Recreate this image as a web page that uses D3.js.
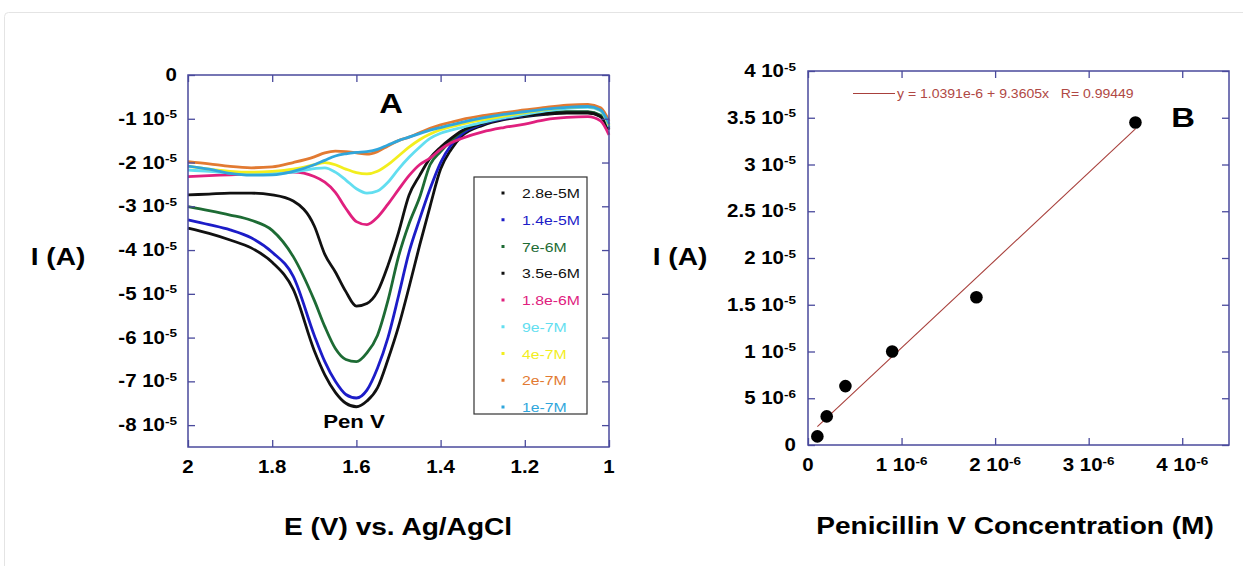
<!DOCTYPE html>
<html>
<head>
<meta charset="utf-8">
<script src="https://cdn.jsdelivr.net/npm/d3@7"></script>
<style>
  body { margin: 0; background: #fff; }
  svg { display: block; font-family: "Liberation Sans", Arial, sans-serif; }
</style>
</head>
<body>
<svg id="chart" width="1243" height="566"></svg>
<script>
// ---- panel A: voltammograms, current in units of 1e-5 A ----
const potentials = [2.00, 1.95, 1.90, 1.85, 1.80, 1.75, 1.70, 1.675, 1.65, 1.625, 1.60, 1.575, 1.55, 1.525,
                    1.50, 1.475, 1.45, 1.425, 1.40, 1.375, 1.35, 1.30, 1.25, 1.20, 1.15, 1.10, 1.05, 1.02, 1.00];

const conc28e6 = [-3.50, -3.62, -3.77, -3.95, -4.28, -4.90, -6.30, -6.85, -7.25, -7.50, -7.58, -7.45, -7.15, -6.50,
                  -5.75, -4.85, -3.90, -3.00, -2.15, -1.70, -1.40, -1.15, -1.02, -0.95, -0.90, -0.87, -0.87, -0.95, -1.25];
const conc14e6 = [-3.31, -3.42, -3.54, -3.72, -4.05, -4.60, -5.95, -6.55, -7.00, -7.30, -7.38, -7.20, -6.70, -6.00,
                  -5.05, -4.05, -3.30, -2.60, -2.00, -1.60, -1.35, -1.12, -1.00, -0.93, -0.88, -0.85, -0.85, -0.93, -1.22];
const conc7e6  = [-3.01, -3.10, -3.20, -3.32, -3.55, -4.15, -5.15, -5.75, -6.25, -6.50, -6.55, -6.35, -5.95, -5.15,
                  -4.15, -3.40, -2.80, -2.05, -1.75, -1.50, -1.30, -1.10, -0.98, -0.92, -0.87, -0.84, -0.84, -0.92, -1.20];
const conc35e6 = [-2.74, -2.72, -2.70, -2.70, -2.74, -2.88, -3.45, -4.10, -4.50, -4.95, -5.28, -5.22, -4.95, -4.35,
                  -3.60, -2.75, -2.30, -1.90, -1.65, -1.45, -1.28, -1.10, -0.98, -0.92, -0.88, -0.86, -0.86, -0.95, -1.25];
const conc18e6 = [-2.32, -2.30, -2.28, -2.26, -2.24, -2.22, -2.32, -2.45, -2.68, -3.05, -3.35, -3.42, -3.25, -2.95,
                  -2.62, -2.30, -2.05, -1.90, -1.70, -1.55, -1.45, -1.30, -1.20, -1.12, -1.02, -0.97, -0.95, -1.05, -1.37];
const conc9e7  = [-2.17, -2.20, -2.24, -2.26, -2.25, -2.22, -2.14, -2.12, -2.22, -2.40, -2.60, -2.70, -2.65, -2.45,
                  -2.15, -1.88, -1.65, -1.45, -1.33, -1.26, -1.20, -1.08, -0.98, -0.90, -0.82, -0.76, -0.74, -0.82, -1.18];
const conc4e7  = [-2.08, -2.15, -2.20, -2.22, -2.20, -2.15, -2.05, -2.00, -2.05, -2.15, -2.23, -2.26, -2.20, -2.05,
                  -1.85, -1.65, -1.48, -1.35, -1.25, -1.18, -1.12, -1.02, -0.94, -0.86, -0.79, -0.74, -0.72, -0.80, -1.15];
const conc2e7  = [-1.98, -2.03, -2.09, -2.12, -2.10, -2.00, -1.87, -1.78, -1.74, -1.75, -1.78, -1.81, -1.75, -1.62,
                  -1.50, -1.42, -1.32, -1.22, -1.14, -1.08, -1.02, -0.93, -0.86, -0.80, -0.74, -0.69, -0.67, -0.75, -1.05];
const conc1e7  = [-2.08, -2.15, -2.25, -2.29, -2.28, -2.20, -2.05, -1.95, -1.85, -1.80, -1.77, -1.75, -1.70, -1.60,
                  -1.50, -1.42, -1.34, -1.26, -1.20, -1.14, -1.08, -0.98, -0.90, -0.84, -0.78, -0.74, -0.72, -0.80, -1.12];

const seriesNames  = ["2.8e-5M", "1.4e-5M", "7e-6M", "3.5e-6M", "1.8e-6M", "9e-7M", "4e-7M", "2e-7M", "1e-7M"];
const seriesValues = [conc28e6, conc14e6, conc7e6, conc35e6, conc18e6, conc9e7, conc4e7, conc2e7, conc1e7];
const seriesColors = ["#111111", "#1c1cc8", "#1d6b34", "#111111", "#e0207e", "#62def0", "#f2ee1e", "#e27a32", "#2fa6dc"];

const xTicksA = [2, 1.8, 1.6, 1.4, 1.2, 1];
const yTicksA = [0, -1e-5, -2e-5, -3e-5, -4e-5, -5e-5, -6e-5, -7e-5, -8e-5];

// ---- panel B: calibration ----
const concentrations = [1e-7, 2e-7, 4e-7, 9e-7, 1.8e-6, 3.5e-6];
const peakCurrents   = [0.92e-6, 3.06e-6, 6.3e-6, 1.0e-5, 1.58e-5, 3.45e-5];
const fitIntercept = 1.0391e-6, fitSlope = 9.3605, fitR = 0.99449;

const xTicksB = [0, 1e-6, 2e-6, 3e-6, 4e-6];
const yTicksB = [0, 5e-6, 1e-5, 1.5e-5, 2e-5, 2.5e-5, 3e-5, 3.5e-5, 4e-5];

// ---------------------------------------------------------------
const SX = 1.17;          // the source picture is stretched horizontally
const tickFont = 17.5;
const axisColor = "#4a4a9c";
const svg = d3.select("#chart");

svg.append("rect")
    .attr("x", 4.5).attr("y", 12.5).attr("width", 1300).attr("height", 620).attr("rx", 4)
    .attr("fill", "none").attr("stroke", "#e4e4e4");

function addText(x, y, str, size, opts = {}) {
    return svg.append("text")
        .attr("transform", `translate(${x},${y}) scale(${SX},1)`)
        .attr("text-anchor", opts.anchor || "middle")
        .attr("font-size", size)
        .attr("font-weight", opts.weight || "bold")
        .attr("fill", opts.color || "#000")
        .text(str);
}

function sciText(x, y, v, anchor) {
    const t = addText(x, y, null, tickFont, { anchor });
    if (v === 0) { t.text("0"); return; }
    const exp = Math.floor(Math.log10(Math.abs(v)) + 1e-9);
    const mant = +(v / Math.pow(10, exp)).toFixed(2);
    t.append("tspan").text(mant + " 10");
    t.append("tspan").attr("dy", "-0.55em").attr("font-size", "0.66em").text(exp);
}

function frame(xs, ys, xTicks, yTicks) {
    const [x0, x1] = xs.range(), [y0, y1] = ys.range();
    const axes = [
        [d3.axisBottom(xs).tickValues(xTicks), `translate(0,${y0})`],
        [d3.axisTop(xs).tickValues(xTicks), `translate(0,${y1})`],
        [d3.axisLeft(ys).tickValues(yTicks), `translate(${x0},0)`],
        [d3.axisRight(ys).tickValues(yTicks), `translate(${x1},0)`]
    ];
    axes.forEach(([ax, tr]) => {
        const g = svg.append("g").attr("transform", tr)
            .call(ax.tickSize(-7).tickSizeOuter(0).tickFormat(""));
        g.select(".domain").remove();
        g.selectAll("line").attr("stroke", axisColor).attr("stroke-width", 1.3);
    });
    svg.append("rect")
        .attr("x", x0).attr("y", y1).attr("width", x1 - x0).attr("height", y0 - y1)
        .attr("fill", "none").attr("stroke", axisColor).attr("stroke-width", 1.5);
}

// ---- Panel A ----
const xA = d3.scaleLinear().domain([2, 1]).range([188, 609]);
const yA = d3.scaleLinear().domain([-8.5e-5, 0]).range([447, 75]);

const lineA = d3.line()
    .x(d => xA(d[0]))
    .y(d => yA(d[1] * 1e-5))
    .curve(d3.curveMonotoneX);

svg.append("g").selectAll("path")
    .data(seriesValues)
    .join("path")
    .attr("d", vals => lineA(potentials.map((e, i) => [e, vals[i]])))
    .attr("fill", "none")
    .attr("stroke", (d, i) => seriesColors[i])
    .attr("stroke-width", 2.8);

frame(xA, yA, xTicksA, yTicksA);

yTicksA.forEach(v => sciText(177, yA(v) + 6, v, "end"));
xTicksA.forEach(v => addText(xA(v), 473, String(v), tickFont));

// legend A
const legA = svg.append("g");
legA.append("rect").attr("x", 474).attr("y", 177).attr("width", 113).attr("height", 237)
    .attr("fill", "#fff").attr("stroke", "#333").attr("stroke-width", 1.2);
seriesNames.forEach((name, i) => {
    const cy = 193 + i * 26.75;
    legA.append("rect").attr("x", 501.5).attr("y", cy - 1.5).attr("width", 3).attr("height", 3)
        .attr("fill", seriesColors[i]);
    addText(522, cy + 5, name, 13.5, { anchor: "start", weight: "normal", color: seriesColors[i] });
});

addText(391, 113, "A", 28);
addText(354, 428, "Pen V", 19);
addText(58, 265, "I (A)", 24);
addText(398, 535, "E (V) vs. Ag/AgCl", 24);

// ---- Panel B ----
const xB = d3.scaleLinear().domain([0, 4.5e-6]).range([808, 1229]);
const yB = d3.scaleLinear().domain([0, 4e-5]).range([445, 71]);

const fitX = [concentrations[0], concentrations[concentrations.length - 1]];
svg.append("line")
    .attr("x1", xB(fitX[0])).attr("y1", yB(fitIntercept + fitSlope * fitX[0]))
    .attr("x2", xB(fitX[1])).attr("y2", yB(fitIntercept + fitSlope * fitX[1]))
    .attr("stroke", "#a8403c").attr("stroke-width", 1.1);

svg.append("g").selectAll("circle")
    .data(concentrations)
    .join("circle")
    .attr("cx", d => xB(d))
    .attr("cy", (d, i) => yB(peakCurrents[i]))
    .attr("r", 6.3)
    .attr("fill", "#000");

frame(xB, yB, xTicksB, yTicksB);

yTicksB.forEach(v => sciText(796, yB(v) + 6, v, "end"));
xTicksB.forEach(v => sciText(xB(v), 471, v, "middle"));

svg.append("line").attr("x1", 853).attr("x2", 895).attr("y1", 93.5).attr("y2", 93.5)
    .attr("stroke", "#a8403c").attr("stroke-width", 1.1);
addText(897, 98, `y = ${fitIntercept.toExponential(4)} + ${fitSlope}x   R= ${fitR}`, 12,
        { anchor: "start", weight: "normal", color: "#b04844" }).attr("xml:space", "preserve");

addText(1183, 127, "B", 28);
addText(680, 265, "I (A)", 24);
addText(1015, 534, "Penicillin V Concentration (M)", 24);
</script>
</body>
</html>
